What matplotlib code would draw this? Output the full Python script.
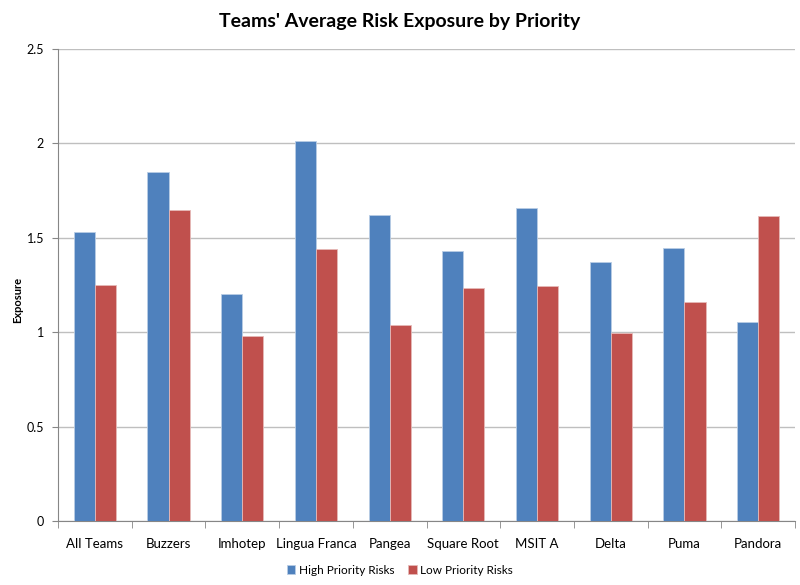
import matplotlib
matplotlib.use("Agg")
import matplotlib.pyplot as plt
import numpy as np

categories = ["All Teams", "Buzzers", "Imhotep", "Lingua Franca", "Pangea",
              "Square Root", "MSIT A", "Delta", "Puma", "Pandora"]
high_priority = [1.53, 1.85, 1.20, 2.015, 1.623, 1.431, 1.657, 1.374, 1.448, 1.056]
low_priority = [1.249, 1.648, 0.982, 1.443, 1.039, 1.233, 1.244, 0.998, 1.159, 1.618]
yticks = [0, 0.5, 1, 1.5, 2, 2.5]
ytick_labels = ["0", "0.5", "1", "1.5", "2", "2.5"]

plt.rcParams['font.family'] = ['Lato', 'DejaVu Sans']

fig = plt.figure(figsize=(8, 5.85), dpi=100)
ax = fig.add_axes([58/800, 1-521/585, (795-58)/800, (521-49)/585])

x = np.arange(len(categories))
w = 1/3.5
blue = "#4F81BD"
red = "#C0504D"
ax.bar(x - w/2, high_priority, w, color=blue, edgecolor="#B9CDE5", linewidth=0.6,
       label="High Priority Risks", zorder=3)
ax.bar(x + w/2, low_priority, w, color=red, edgecolor="#E6B9B8", linewidth=0.6,
       label="Low Priority Risks", zorder=3)

ax.set_xlim(-0.5, len(categories) - 0.5)
ax.set_ylim(0, 2.5)
ax.set_yticks(yticks)
ax.set_yticklabels(ytick_labels, fontsize=9)
ax.set_xticks(x)
ax.set_xticklabels(categories, fontsize=9.5)
ax.set_xticks(np.arange(len(categories) + 1) - 0.5, minor=True)
ax.tick_params(axis='x', which='major', length=0, pad=12)
ax.tick_params(axis='x', which='minor', length=5, color="#868686", direction='out')
ax.tick_params(axis='y', length=4, color="#868686", direction='out', pad=6)

ax.grid(axis='y', color="#BFBFBF", linewidth=1, zorder=0)
ax.set_axisbelow(True)
for s in ['top', 'right']:
    ax.spines[s].set_visible(False)
ax.spines['left'].set_color("#868686")
ax.spines['bottom'].set_color("#868686")

fig.text(18/800, 1-300/585, "Exposure", rotation=90, ha='center', va='center',
         fontsize=8, fontweight='bold')

fig.text(0.5, 1-22/585, "Teams' Average Risk Exposure by Priority",
         ha='center', va='center', fontsize=14, fontweight='bold')

fig.legend(loc='center', bbox_to_anchor=(0.5, 1-570/585), ncol=2, frameon=False,
           fontsize=8.5, handlelength=0.7, handleheight=0.7, handletextpad=0.3,
           columnspacing=1.2)

fig.savefig("out.png", dpi=100, facecolor="white")
